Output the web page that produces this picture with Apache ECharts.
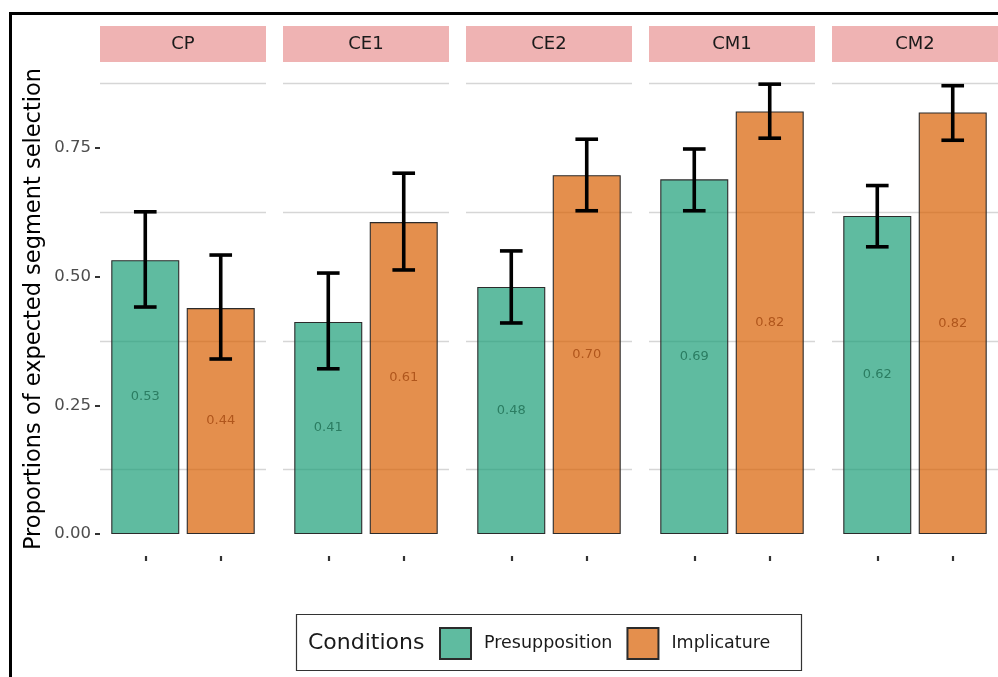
<!DOCTYPE html>
<html>
<head>
<meta charset="utf-8">
<script src="https://cdn.jsdelivr.net/npm/echarts@6/dist/echarts.min.js"></script>
<style>
html,body{margin:0;padding:0;background:#fff;}
#chart{width:998px;height:677px;}
</style>
</head>
<body>
<div id="chart"></div>
<script>
// ---- data ----
const panels = ['CP', 'CE1', 'CE2', 'CM1', 'CM2'];
const conditions = ['Presupposition', 'Implicature'];
const presMean = [0.532, 0.412, 0.480, 0.689, 0.618];
const presLow  = [0.441, 0.321, 0.410, 0.628, 0.558];
const presHigh = [0.626, 0.507, 0.550, 0.748, 0.677];
const implMean = [0.439, 0.606, 0.697, 0.821, 0.819];
const implLow  = [0.340, 0.513, 0.628, 0.769, 0.765];
const implHigh = [0.542, 0.701, 0.767, 0.874, 0.871];
const yTicks = [0, 0.25, 0.5, 0.75];
const yTitle = 'Proportions of expected segment selection';
const legendTitle = 'Conditions';

// ---- styles ----
const fillColors = ['rgba(27,158,119,0.7)', 'rgba(217,95,2,0.7)'];
const labelColors = ['#2b7d62', '#b0561c'];
const font = 'DejaVu Sans';

const panelLefts = [100, 283, 466, 649, 832];
const panelW = 166;
const gridTop = 19.3;
const gridH = 514.7;

const chart = echarts.init(document.getElementById('chart'), null, {renderer: 'canvas'});

const grids = [], xAxes = [], yAxes = [], series = [], graphics = [];

// outer border
graphics.push({type: 'rect', shape: {x: 10.5, y: 13.5, width: 1100, height: 800},
  style: {fill: 'none', stroke: '#000', lineWidth: 3}, z: 10, silent: true});

panels.forEach((p, i) => {
  grids.push({left: panelLefts[i], top: gridTop, width: panelW, height: gridH, containLabel: false});
  xAxes.push({
    type: 'value', gridIndex: i, min: 0.4, max: 2.6, offset: 22, position: 'bottom',
    axisLine: {show: false, onZero: false},
    splitLine: {show: false},
    axisLabel: {show: false},
    axisTick: {show: true, customValues: [1, 2], length: 5, lineStyle: {color: '#333', width: 2.2}}
  });
  yAxes.push({
    type: 'value', gridIndex: i, min: 0, max: 1, interval: 0.25,
    axisLine: {show: false},
    splitLine: {show: false},
    minorTick: {show: false, splitNumber: 2},
    minorSplitLine: {show: true, lineStyle: {color: '#d6d6d6', width: 1.3}},
    axisTick: i === 0 ? {show: true, customValues: yTicks, length: 5, lineStyle: {color: '#333', width: 2}} : {show: false},
    axisLabel: i === 0 ? {show: true, customValues: yTicks, formatter: v => v.toFixed(2),
      color: '#4d4d4d', fontSize: 16.5, fontFamily: font, margin: 9} : {show: false}
  });
  const means = [presMean[i], implMean[i]];
  const lows = [presLow[i], implLow[i]];
  const highs = [presHigh[i], implHigh[i]];
  conditions.forEach((c, k) => {
    series.push({
      type: 'bar', name: c, xAxisIndex: i, yAxisIndex: i,
      data: [[k + 1, means[k]]],
      barWidth: 68, barGap: '-100%',
      itemStyle: {color: fillColors[k], borderColor: '#2b2b2b', borderWidth: 1.1},
      label: {show: true, position: 'inside', formatter: d => d.value[1].toFixed(2),
        color: labelColors[k], fontSize: 13, fontFamily: font},
      emphasis: {disabled: true}, z: 2
    });
  });
  series.push({
    type: 'custom', xAxisIndex: i, yAxisIndex: i, silent: true, z: 5,
    data: [[1, lows[0], highs[0]], [2, lows[1], highs[1]]],
    renderItem: (params, api) => {
      const x = api.value(0);
      const lo = api.coord([x, api.value(1)]);
      const hi = api.coord([x, api.value(2)]);
      const hw = api.size([0.3, 0])[0] / 2;
      const st = {stroke: '#000', lineWidth: 3.6};
      return {type: 'group', children: [
        {type: 'line', shape: {x1: lo[0], y1: lo[1], x2: hi[0], y2: hi[1]}, style: st},
        {type: 'line', shape: {x1: lo[0] - hw, y1: lo[1], x2: lo[0] + hw, y2: lo[1]}, style: st},
        {type: 'line', shape: {x1: hi[0] - hw, y1: hi[1], x2: hi[0] + hw, y2: hi[1]}, style: st}
      ]};
    }
  });
  // strip
  graphics.push({type: 'rect', shape: {x: panelLefts[i], y: 26, width: panelW, height: 36},
    style: {fill: '#efb3b3'}, z: 3, silent: true});
  graphics.push({type: 'text', x: panelLefts[i] + panelW / 2, y: 44, z: 4, silent: true,
    style: {text: p, fontSize: 18, fontFamily: font, fill: '#1a1a1a', align: 'center', verticalAlign: 'middle'}});
});

// y title
graphics.push({type: 'text', x: 34, y: 309, rotation: Math.PI / 2, silent: true,
  style: {text: yTitle, fontSize: 22.5, fontFamily: font, fill: '#000', align: 'center', verticalAlign: 'middle'}});
// legend box + title
graphics.push({type: 'rect', shape: {x: 296.5, y: 614.5, width: 505, height: 56},
  style: {fill: '#fff', stroke: '#333', lineWidth: 1.2}, z: 0, silent: true});
graphics.push({type: 'text', x: 308, y: 643, z: 1, silent: true,
  style: {text: legendTitle, fontSize: 22, fontFamily: font, fill: '#1a1a1a', verticalAlign: 'middle'}});

chart.setOption({
  animation: false,
  textStyle: {fontFamily: font},
  grid: grids,
  xAxis: xAxes,
  yAxis: yAxes,
  legend: {
    data: conditions, left: 439, top: 627, padding: 0, itemWidth: 31, itemHeight: 31, itemGap: 14,
    icon: 'rect', selectedMode: false, z: 6,
    textStyle: {fontSize: 17.5, color: '#1a1a1a', fontFamily: font, padding: [0, 0, 0, 8]}
  },
  graphic: graphics,
  series: series
});
</script>
</body>
</html>
